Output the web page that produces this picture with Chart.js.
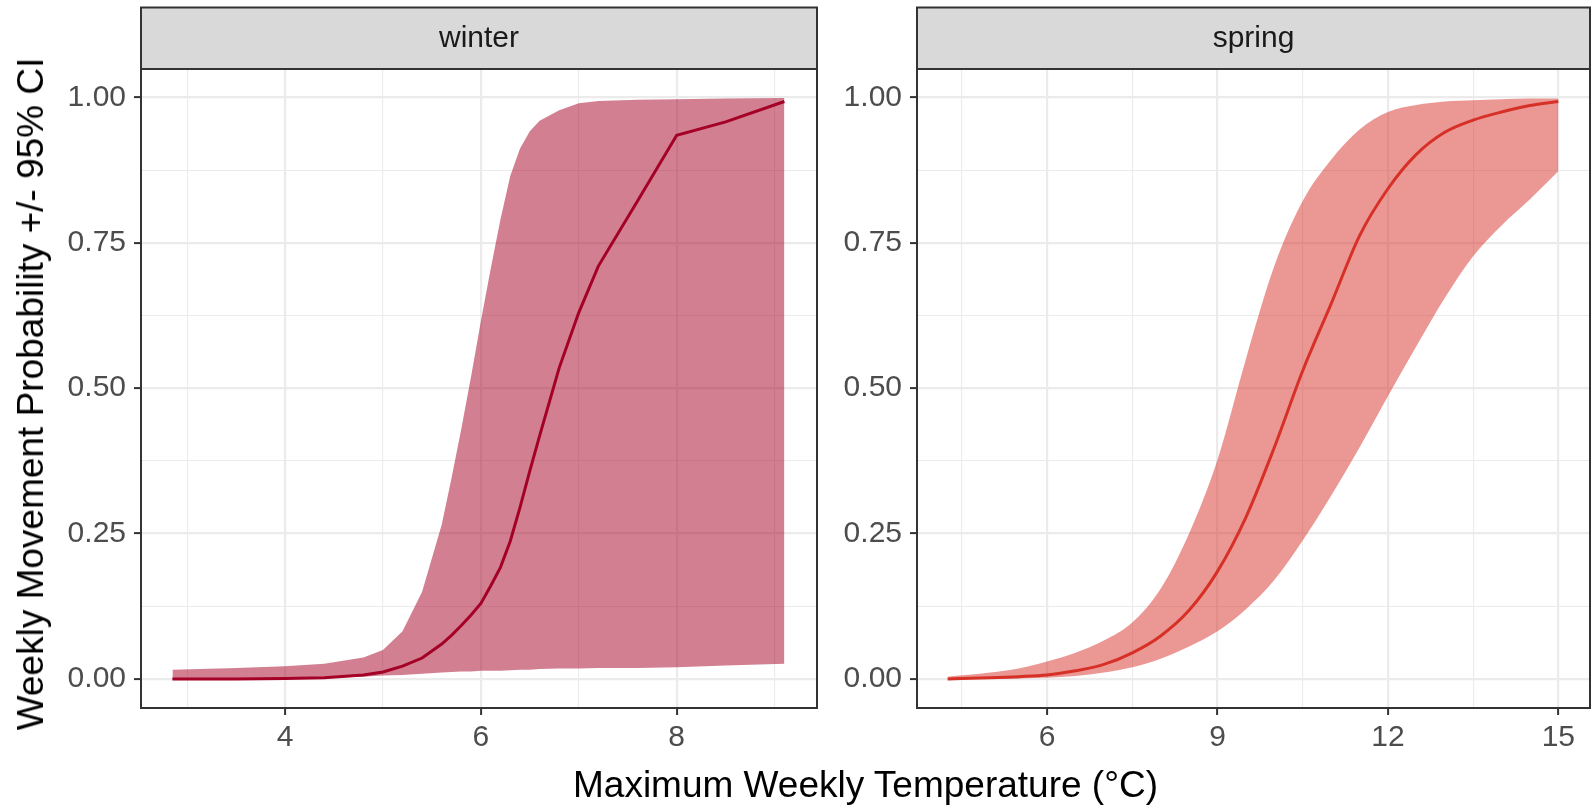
<!DOCTYPE html>
<html>
<head>
<meta charset="utf-8">
<script src="https://cdn.jsdelivr.net/npm/chart.js@4.4.1/dist/chart.umd.min.js"></script>
<style>
  html, body { margin: 0; padding: 0; background: #ffffff; }
  #wrap { position: relative; width: 1595px; height: 809px; overflow: hidden; font-family: "Liberation Sans", Arial, sans-serif; }
  canvas { position: absolute; left: 0; top: 0; }
  .ytitle {
    position: absolute; left: 31px; top: 394px; width: 0; height: 0;
  }
  .ytitle span {
    position: absolute; white-space: nowrap; font-size: 37px; color: #000;
    transform: translate(-50%, -50%) rotate(-90deg); left: 0; top: 0;
  }
  .xtitle {
    position: absolute; left: 0; width: 1731px; top: 763px; text-align: center;
    font-size: 37px; color: #000; line-height: 44px;
  }
</style>
</head>
<body>
<div id="wrap">
  <canvas id="winter" width="1595" height="809"></canvas>
  <canvas id="spring" width="1595" height="809"></canvas>
  <div class="ytitle"><span>Weekly Movement Probability +/- 95% CI</span></div>
  <div class="xtitle">Maximum Weekly Temperature (°C)</div>
</div>
<script>
// winter panel
const winterX     = [2.85, 3.5, 4.0, 4.4, 4.8, 5.0, 5.2, 5.4, 5.6, 5.7, 5.8, 5.9, 6.0, 6.1, 6.2, 6.3, 6.4, 6.5, 6.6, 6.8, 7.0, 7.2, 7.6, 8.0, 8.5, 9.1];
const winterFit   = [0.000, 0.000, 0.001, 0.002, 0.007, 0.012, 0.022, 0.036, 0.060, 0.075, 0.092, 0.110, 0.130, 0.160, 0.192, 0.237, 0.295, 0.358, 0.418, 0.535, 0.630, 0.710, 0.822, 0.935, 0.958, 0.993];
const winterLower = [0.000, 0.000, 0.001, 0.002, 0.004, 0.006, 0.007, 0.009, 0.011, 0.012, 0.013, 0.013, 0.014, 0.014, 0.014, 0.015, 0.016, 0.016, 0.017, 0.018, 0.018, 0.019, 0.019, 0.020, 0.023, 0.026];
const winterUpper = [0.016, 0.019, 0.022, 0.026, 0.037, 0.050, 0.082, 0.150, 0.265, 0.345, 0.430, 0.520, 0.615, 0.705, 0.790, 0.865, 0.912, 0.942, 0.960, 0.978, 0.990, 0.994, 0.996, 0.997, 0.998, 0.999];

// spring panel
const springX     = [4.25, 5.0, 5.5, 6.0, 6.5, 7.0, 7.5, 8.0, 8.5, 9.0, 9.5, 10.0, 10.5, 11.0, 11.5, 12.0, 12.5, 13.0, 13.5, 14.0, 14.5, 15.0];
const springFit   = [0.000, 0.002, 0.004, 0.007, 0.014, 0.025, 0.045, 0.074, 0.118, 0.185, 0.278, 0.398, 0.530, 0.645, 0.762, 0.843, 0.902, 0.940, 0.961, 0.975, 0.986, 0.993];
const springLower = [0.000, 0.000, 0.001, 0.002, 0.005, 0.011, 0.020, 0.035, 0.056, 0.082, 0.120, 0.170, 0.238, 0.315, 0.398, 0.486, 0.572, 0.655, 0.727, 0.780, 0.825, 0.873];
const springUpper = [0.004, 0.011, 0.018, 0.030, 0.045, 0.066, 0.097, 0.155, 0.250, 0.377, 0.550, 0.710, 0.822, 0.893, 0.945, 0.975, 0.987, 0.993, 0.995, 0.997, 0.998, 0.998];

// axis ticks
const yMajor = [0, 0.25, 0.5, 0.75, 1];
const yMinor = [0.125, 0.375, 0.625, 0.875];
const winterMajor = [4, 6, 8];
const winterMinor = [3, 5, 7, 9];
const springMajor = [6, 9, 12, 15];
const springMinor = [4.5, 7.5, 10.5, 13.5];

const toPoints = (xs, ys) => xs.map((x, i) => ({ x: x, y: ys[i] }));

// strip on top + panel border, like theme_bw facets
const panelPlugin = {
  id: "panel",
  afterDraw(chart) {
    const a = chart.chartArea;
    const ctx = chart.ctx;
    const stripTop = 7.5;
    ctx.save();
    ctx.fillStyle = "#D9D9D9";
    ctx.fillRect(a.left, stripTop, a.right - a.left, a.top - stripTop);
    ctx.strokeStyle = "#333333";
    ctx.lineWidth = 2;
    ctx.strokeRect(a.left, stripTop, a.right - a.left, a.top - stripTop);
    ctx.strokeRect(a.left, a.top, a.right - a.left, a.bottom - a.top);
    ctx.fillStyle = "#1A1A1A";
    ctx.font = '30px "Liberation Sans", Arial, sans-serif';
    ctx.textAlign = "center";
    ctx.textBaseline = "middle";
    ctx.fillText(chart.options.plugins.panel.label, (a.left + a.right) / 2, (stripTop + a.top) / 2);
    ctx.restore();
  },
};

function makePanel(id, cfg) {
  const allX = cfg.major.concat(cfg.minor).sort((a, b) => a - b);
  const allY = yMajor.concat(yMinor).sort((a, b) => a - b);
  const lineInterp = cfg.smooth ? { cubicInterpolationMode: "monotone" } : { tension: 0 };

  return new Chart(document.getElementById(id), {
    type: "line",
    data: {
      datasets: [
        Object.assign({
          data: toPoints(cfg.x, cfg.fit),
          borderColor: cfg.color,
          borderWidth: 3,
          pointRadius: 0,
          fill: false,
        }, lineInterp),
        Object.assign({
          data: toPoints(cfg.x, cfg.lower),
          borderWidth: 0,
          borderColor: "transparent",
          pointRadius: 0,
          fill: false,
        }, lineInterp),
        Object.assign({
          data: toPoints(cfg.x, cfg.upper),
          borderWidth: 0,
          borderColor: "transparent",
          backgroundColor: cfg.band,
          pointRadius: 0,
          fill: "-1",
        }, lineInterp),
      ],
    },
    options: {
      responsive: false,
      animation: false,
      events: [],
      layout: { padding: cfg.padding },
      plugins: {
        legend: { display: false },
        tooltip: { enabled: false },
        panel: { label: cfg.label },
      },
      scales: {
        x: {
          type: "linear",
          min: cfg.xmin,
          max: cfg.xmax,
          border: { display: false },
          afterFit: (s) => { s.height = 101; },
          afterBuildTicks: (s) => { s.ticks = allX.map((v) => ({ value: v })); },
          grid: {
            color: "#EBEBEB",
            lineWidth: (c) => (cfg.major.includes(c.tick.value) ? 2.2 : 1.1),
            drawTicks: true,
            tickLength: 7,
            tickWidth: 2,
            tickColor: (c) => (cfg.major.includes(c.tick.value) ? "#333333" : "rgba(0,0,0,0)"),
          },
          ticks: {
            autoSkip: false,
            maxRotation: 0,
            padding: 5,
            color: "#4D4D4D",
            font: { family: '"Liberation Sans", Arial, sans-serif', size: 30 },
            callback: (v) => (cfg.major.includes(v) ? String(v) : ""),
          },
        },
        y: {
          type: "linear",
          min: -0.0499,
          max: 1.0489,
          border: { display: false },
          afterFit: (s) => { s.width = cfg.yWidth; },
          afterBuildTicks: (s) => { s.ticks = allY.map((v) => ({ value: v })); },
          grid: {
            color: "#EBEBEB",
            lineWidth: (c) => (yMajor.includes(c.tick.value) ? 2.2 : 1.1),
            drawTicks: true,
            tickLength: 7,
            tickWidth: 2,
            tickColor: (c) => (yMajor.includes(c.tick.value) ? "#333333" : "rgba(0,0,0,0)"),
          },
          ticks: {
            autoSkip: false,
            padding: 8,
            color: "#4D4D4D",
            font: { family: '"Liberation Sans", Arial, sans-serif', size: 30 },
            callback: (v) => (yMajor.includes(v) ? v.toFixed(2) : ""),
          },
        },
      },
    },
    plugins: [panelPlugin],
  });
}

makePanel("winter", {
  label: "winter",
  x: winterX, fit: winterFit, lower: winterLower, upper: winterUpper,
  major: winterMajor, minor: winterMinor,
  xmin: 2.529, xmax: 9.433,
  color: "#A50026", band: "rgba(165, 0, 38, 0.5)",
  smooth: false,
  yWidth: 141,
  padding: { left: 0, right: 778, top: 69, bottom: 0 },
});

makePanel("spring", {
  label: "spring",
  x: springX, fit: springFit, lower: springLower, upper: springUpper,
  major: springMajor, minor: springMinor,
  xmin: 3.711, xmax: 15.557,
  color: "#D73027", band: "rgba(215, 48, 39, 0.5)",
  smooth: true,
  yWidth: 88,
  padding: { left: 829, right: 5, top: 69, bottom: 0 },
});
</script>
</body>
</html>
